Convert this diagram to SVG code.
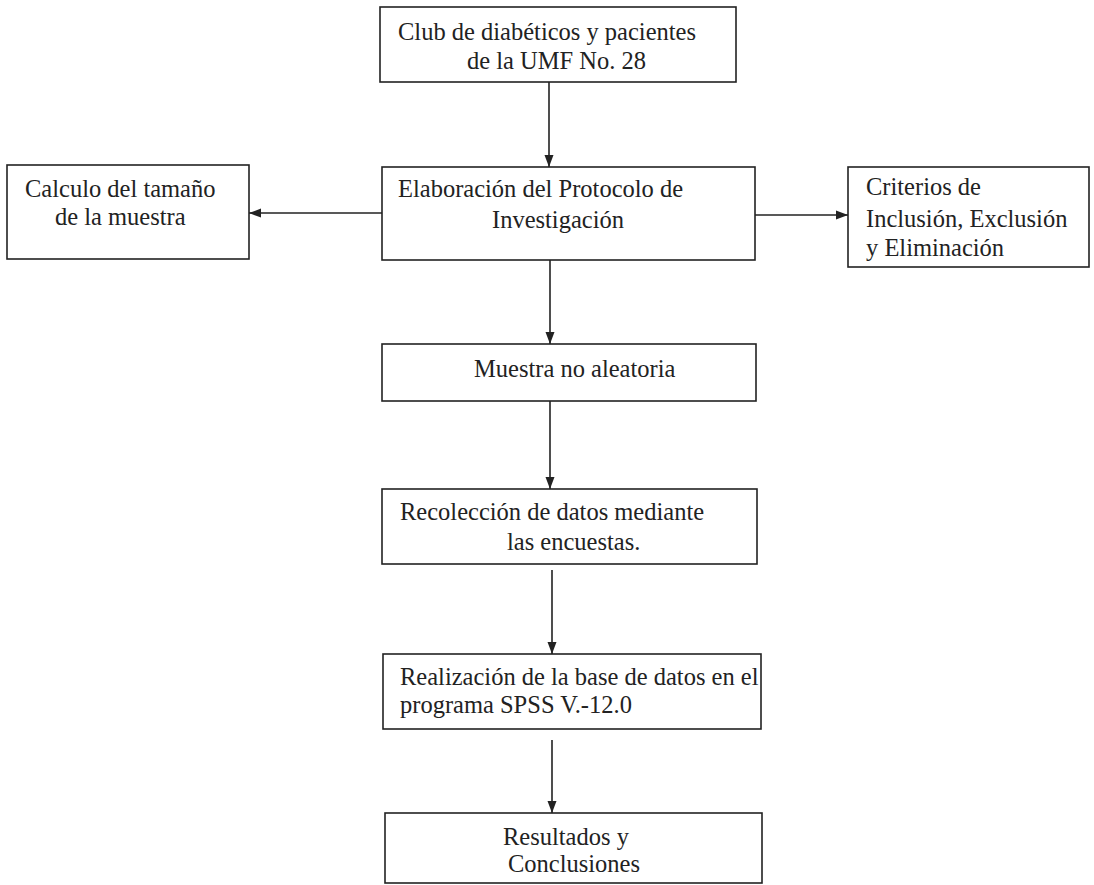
<svg xmlns="http://www.w3.org/2000/svg" width="1094" height="885" viewBox="0 0 1094 885">
<defs>
<style>
.box{fill:#ffffff;stroke:#222222;stroke-width:1.6}
.t{font-family:"Liberation Serif","Times New Roman",serif;font-size:24.5px;fill:#222222}
.c{stroke:#222222;stroke-width:1.6;fill:none}
</style>
<marker id="ah" viewBox="0 0 12 10" refX="12" refY="5" markerWidth="12" markerHeight="10" markerUnits="userSpaceOnUse" orient="auto">
<path d="M0,0.5 L12,5 L0,9.5 Z" fill="#222222"/>
</marker>
</defs>
<rect width="1094" height="885" fill="#ffffff"/>
<g id="connectors">
<line class="c" x1="549" y1="82" x2="549" y2="167" marker-end="url(#ah)"/>
<line class="c" x1="382" y1="213" x2="249" y2="213" marker-end="url(#ah)"/>
<line class="c" x1="755" y1="215" x2="848" y2="215" marker-end="url(#ah)"/>
<line class="c" x1="550" y1="260" x2="550" y2="344" marker-end="url(#ah)"/>
<line class="c" x1="550" y1="401" x2="550" y2="489" marker-end="url(#ah)"/>
<line class="c" x1="552" y1="570" x2="552" y2="654" marker-end="url(#ah)"/>
<line class="c" x1="552" y1="740" x2="552" y2="813" marker-end="url(#ah)"/>
</g>
<g id="n1">
<rect class="box" x="380" y="7" width="356" height="75"/>
<text class="t" x="398" y="40">Club de diabéticos y pacientes</text>
<text class="t" x="467" y="69">de la UMF No. 28</text>
</g>
<g id="n2">
<rect class="box" x="382" y="167" width="373" height="93"/>
<text class="t" x="398" y="197">Elaboración del Protocolo de</text>
<text class="t" x="492" y="228">Investigación</text>
</g>
<g id="n3">
<rect class="box" x="7" y="165" width="242" height="94"/>
<text class="t" x="25" y="197">Calculo del tamaño</text>
<text class="t" x="55" y="225">de la muestra</text>
</g>
<g id="n4">
<rect class="box" x="848" y="167" width="241" height="100"/>
<text class="t" x="866" y="195">Criterios de</text>
<text class="t" x="866" y="227">Inclusión, Exclusión</text>
<text class="t" x="866" y="256">y Eliminación</text>
</g>
<g id="n5">
<rect class="box" x="382" y="344" width="374" height="57"/>
<text class="t" x="474" y="377">Muestra no aleatoria</text>
</g>
<g id="n6">
<rect class="box" x="382" y="489" width="375" height="75"/>
<text class="t" x="400" y="520">Recolección de datos mediante</text>
<text class="t" x="507" y="550">las encuestas.</text>
</g>
<g id="n7">
<rect class="box" x="383" y="654" width="378" height="75"/>
<text class="t" x="400" y="685">Realización de la base de datos en el</text>
<text class="t" x="400" y="713">programa SPSS V.-12.0</text>
</g>
<g id="n8">
<rect class="box" x="385" y="813" width="377" height="70"/>
<text class="t" x="503" y="845">Resultados y</text>
<text class="t" x="508" y="872">Conclusiones</text>
</g>
</svg>
